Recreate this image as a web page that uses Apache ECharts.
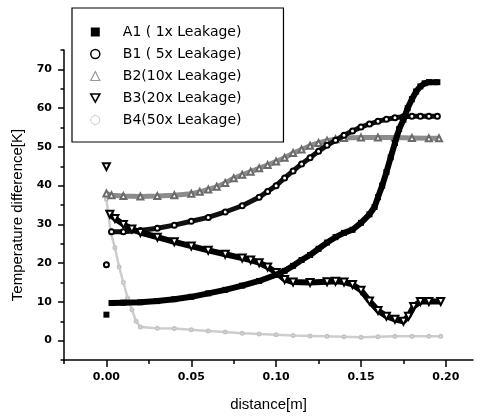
<!DOCTYPE html>
<html>
<head>
<meta charset="utf-8">
<script src="https://cdn.jsdelivr.net/npm/echarts@6/dist/echarts.min.js"></script>
<style>html,body{margin:0;padding:0;background:#fff;}#c{width:484px;height:418px;}</style>
</head>
<body>
<div id="c"></div>
<script>
// ---- data ----
const seriesNames = ['A1 ( 1x Leakage)', 'B1 ( 5x Leakage)', 'B2(10x Leakage)', 'B3(20x Leakage)', 'B4(50x Leakage)'];
const xTickLabels = [0, 0.05, 0.10, 0.15, 0.20];
const yTickLabels = [0, 10, 20, 30, 40, 50, 60, 70];

const a1X = [0, 0.0015, 0.003, 0.01, 0.02, 0.03, 0.04, 0.05, 0.06, 0.07, 0.08, 0.09, 0.10, 0.105, 0.11, 0.115, 0.12, 0.125, 0.13, 0.135, 0.14, 0.145, 0.15, 0.155, 0.158, 0.16, 0.1625, 0.165, 0.1675, 0.17, 0.1725, 0.175, 0.1775, 0.18, 0.1825, 0.185, 0.1875, 0.19, 0.195];
const a1Y = [6.7, null, 9.7, 9.8, 9.9, 10.2, 10.7, 11.3, 12.2, 13.1, 14.2, 15.4, 17.0, 18.0, 19.3, 20.8, 22.1, 23.7, 25.3, 26.7, 27.8, 28.6, 30.4, 32.6, 34.5, 37.0, 40.0, 43.5, 47.3, 51.0, 54.6, 57.0, 60.0, 62.3, 64.3, 65.6, 66.4, 66.7, 66.7];

const b1X = [0, 0.0015, 0.003, 0.01, 0.02, 0.03, 0.04, 0.05, 0.06, 0.07, 0.08, 0.09, 0.095, 0.10, 0.105, 0.11, 0.115, 0.12, 0.125, 0.13, 0.135, 0.14, 0.145, 0.15, 0.155, 0.16, 0.165, 0.17, 0.175, 0.18, 0.185, 0.19, 0.195];
const b1Y = [19.6, null, 28.1, 28.1, 28.4, 29.0, 29.8, 30.8, 31.8, 33.2, 34.8, 37.0, 38.5, 40.0, 42.0, 43.8, 45.6, 47.2, 48.9, 50.4, 51.7, 53.0, 54.1, 55.1, 55.9, 56.6, 57.1, 57.5, 57.8, 57.9, 57.9, 57.9, 57.9];

const b2X = [0, 0.003, 0.01, 0.02, 0.03, 0.04, 0.05, 0.055, 0.06, 0.065, 0.07, 0.075, 0.08, 0.085, 0.09, 0.095, 0.10, 0.105, 0.11, 0.115, 0.12, 0.125, 0.13, 0.135, 0.14, 0.15, 0.16, 0.17, 0.18, 0.19, 0.196];
const b2Y = [38.0, 37.5, 37.3, 37.2, 37.3, 37.5, 37.9, 38.4, 39.0, 39.7, 40.7, 41.9, 42.8, 43.6, 44.5, 45.3, 46.2, 47.2, 48.4, 49.3, 50.3, 51.0, 51.6, 52.0, 52.3, 52.4, 52.4, 52.4, 52.3, 52.2, 52.2];

const b3X = [0, 0.001, 0.002, 0.005, 0.01, 0.015, 0.02, 0.03, 0.04, 0.05, 0.06, 0.07, 0.08, 0.085, 0.09, 0.095, 0.10, 0.105, 0.11, 0.12, 0.13, 0.135, 0.14, 0.145, 0.15, 0.155, 0.16, 0.165, 0.17, 0.175, 0.178, 0.181, 0.185, 0.19, 0.197];
const b3Y = [44.9, null, 32.6, 31.5, 30.0, 28.8, 27.9, 26.7, 25.5, 24.4, 23.3, 22.3, 21.3, 20.8, 20.1, 19.0, 17.6, 15.8, 15.1, 15.0, 15.2, 15.3, 15.1, 14.5, 13.0, 10.2, 7.8, 6.3, 5.5, 5.0, 6.3, 8.8, 10.1, 10.1, 10.1];

const b4X = [0, 0.0025, 0.005, 0.0075, 0.01, 0.0125, 0.015, 0.0175, 0.02, 0.03, 0.04, 0.05, 0.06, 0.07, 0.08, 0.09, 0.10, 0.11, 0.12, 0.13, 0.14, 0.15, 0.16, 0.17, 0.18, 0.19, 0.197];
const b4Y = [36.5, 28.0, 24.0, 19.0, 15.0, 11.0, 8.0, 5.0, 3.5, 3.2, 3.1, 2.8, 2.5, 2.2, 1.9, 1.7, 1.5, 1.3, 1.2, 1.1, 1.0, 0.9, 1.0, 1.1, 1.1, 1.1, 1.1];

const xMinorTicks = [-0.025, 0.025, 0.075, 0.125, 0.175];
const yMinorTicks = [-5, 5, 15, 25, 35, 45, 55, 65, 75];

function pairs(xs, ys) { return xs.map((x, i) => [x, ys[i]]); }

const chart = echarts.init(document.getElementById('c'), null, { renderer: 'canvas' });
const tickFont = { fontFamily: 'DejaVu Sans', fontSize: 11, fontWeight: 'bold', color: '#000' };
const titleFont = { fontFamily: 'Liberation Sans', fontSize: 15, color: '#000' };
const X_MIN = -0.025, X_MAX = 0.216, Y_MIN = -5, Y_MAX = 75;

function tickAxis(kind, values, len) {
  return {
    type: 'value', position: kind === 'x' ? 'bottom' : 'left',
    min: kind === 'x' ? X_MIN : Y_MIN, max: kind === 'x' ? X_MAX : Y_MAX,
    axisLine: { show: false, onZero: false },
    axisTick: { show: true, inside: false, length: len, customValues: values, lineStyle: { color: '#000', width: 1.5 } },
    axisLabel: { show: false },
    splitLine: { show: false }
  };
}

const option = {
  animation: false,
  backgroundColor: '#fff',
  grid: { left: 64, right: 11, top: 50, bottom: 58, containLabel: false, outerBoundsMode: 'none' },
  legend: {
    orient: 'vertical', left: 72, top: 8,
    borderColor: '#000', borderWidth: 1.2,
    padding: [17, 42, 15, 18], itemGap: 8, itemWidth: 9, itemHeight: 9,
    textStyle: { fontFamily: 'DejaVu Sans', fontSize: 14, color: '#000', lineHeight: 14, padding: [0, 0, 0, 18] },
    data: [
      { name: seriesNames[0], icon: 'rect', itemStyle: { color: '#000' } },
      { name: seriesNames[1], icon: 'circle', itemStyle: { color: '#fff', borderColor: '#000', borderWidth: 1.5 } },
      { name: seriesNames[2], icon: 'triangle', itemStyle: { color: '#fff', borderColor: '#999', borderWidth: 1.2 } },
      { name: seriesNames[3], icon: 'path://M0,0 L10,0 L5,9 Z', itemStyle: { color: '#fff', borderColor: '#000', borderWidth: 1.6 } },
      { name: seriesNames[4], icon: 'circle', itemStyle: { color: '#fff', borderColor: '#ccc', borderWidth: 1 } }
    ]
  },
  xAxis: [
    {
      type: 'value', min: X_MIN, max: X_MAX, position: 'bottom',
      name: 'distance[m]', nameLocation: 'middle', nameGap: 37, nameTextStyle: titleFont,
      axisLine: { show: true, onZero: false, lineStyle: { color: '#000', width: 1.5 } },
      axisTick: { show: false },
      axisLabel: { show: true, margin: 12, customValues: xTickLabels, formatter: v => v.toFixed(2), ...tickFont },
      splitLine: { show: false }
    },
    tickAxis('x', xTickLabels, 7),
    tickAxis('x', xMinorTicks, 4)
  ],
  yAxis: [
    {
      type: 'value', min: Y_MIN, max: Y_MAX, position: 'left',
      name: 'Temperature difference[K]', nameLocation: 'middle', nameGap: 34,
      nameTextStyle: Object.assign({ padding: [0, 20, 0, 0] }, titleFont),
      axisLine: { show: true, onZero: false, lineStyle: { color: '#000', width: 1.5 } },
      axisTick: { show: false },
      axisLabel: { show: true, margin: 12, customValues: yTickLabels, ...tickFont },
      splitLine: { show: false }
    },
    tickAxis('y', yTickLabels, 6),
    tickAxis('y', yMinorTicks, 3.5)
  ],
  series: [
    {
      name: seriesNames[4], type: 'line', data: pairs(b4X, b4Y), z: 1,
      symbol: 'emptyCircle', symbolSize: 3, showSymbol: true,
      lineStyle: { color: '#cdcdcd', width: 2.5 }, itemStyle: { color: '#c4c4c4', borderWidth: 1 }
    },
    {
      name: seriesNames[2], type: 'line', data: pairs(b2X, b2Y), z: 2,
      symbol: 'emptyTriangle', symbolSize: 6, showSymbol: true,
      lineStyle: { color: '#8c8c8c', width: 5 }, itemStyle: { color: '#6a6a6a', borderWidth: 1 }
    },
    {
      name: seriesNames[1], type: 'line', data: pairs(b1X, b1Y), z: 3,
      symbol: 'emptyCircle', symbolSize: 5, showSymbol: true,
      lineStyle: { color: '#111', width: 5 }, itemStyle: { color: '#000', borderWidth: 1.5 }
    },
    {
      name: seriesNames[3], type: 'line', data: pairs(b3X, b3Y), z: 4,
      symbol: 'emptyTriangle', symbolRotate: 180, symbolSize: 7, showSymbol: true,
      lineStyle: { color: '#000', width: 6 }, itemStyle: { color: '#000', borderWidth: 1.5 }
    },
    {
      name: seriesNames[0], type: 'line', data: pairs(a1X, a1Y), z: 5,
      symbol: 'rect', symbolSize: 6, showSymbol: true,
      lineStyle: { color: '#000', width: 6 }, itemStyle: { color: '#000' }
    }
  ]
};
chart.setOption(option);
</script>
</body>
</html>
